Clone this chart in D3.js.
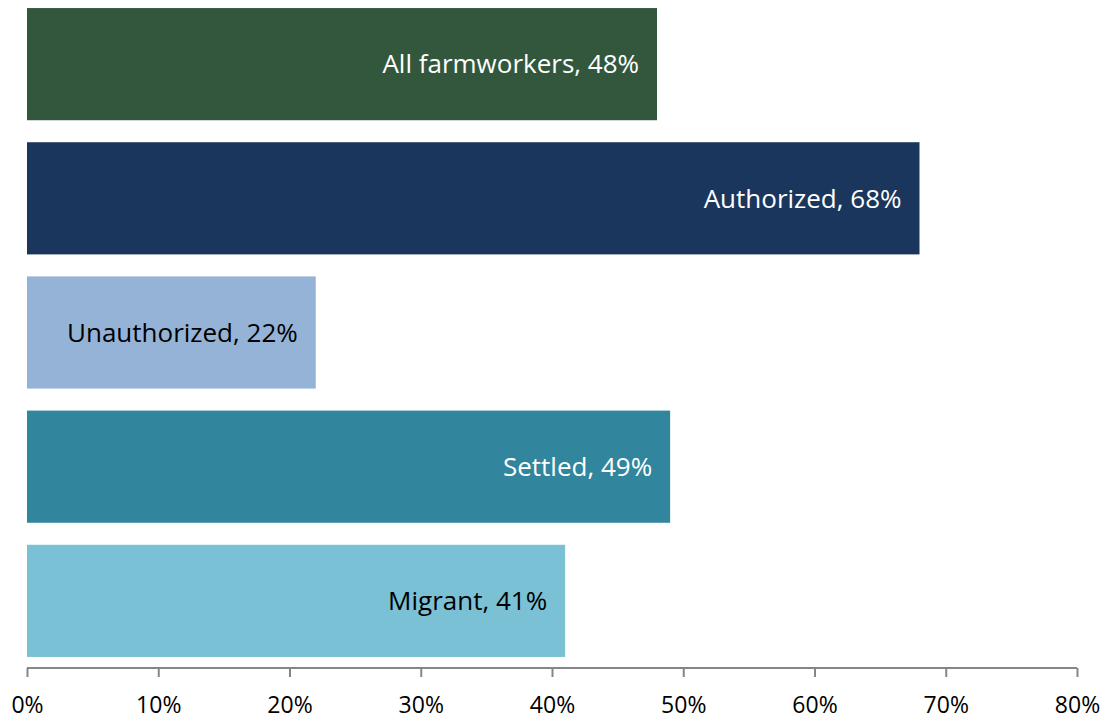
<!DOCTYPE html>
<html><head><meta charset="utf-8">
<script src="https://cdn.jsdelivr.net/npm/d3@7"></script>
<style>body{margin:0;background:#fff}svg{display:block}</style>
</head><body>
<svg id="c" width="1105" height="720"></svg>
<script>
const categories = ["All farmworkers", "Authorized", "Unauthorized", "Settled", "Migrant"];
const values = [48, 68, 22, 49, 41];
const barColors = ["#33573C", "#1A365D", "#95B3D7", "#31859C", "#7AC1D6"];
const labelColors = ["#FFFFFF", "#FFFFFF", "#000000", "#FFFFFF", "#000000"];
const tickValues = [0, 10, 20, 30, 40, 50, 60, 70, 80];

const svg = d3.select("#c");
const font = "'Open Sans', sans-serif";
const x = d3.scaleLinear().domain([0, 80]).range([27, 1077]);
const y = d3.scaleBand().domain(categories).range([0, 665]).paddingInner(0.164).paddingOuter(0.06);

svg.selectAll("rect.bar").data(categories).join("rect")
  .attr("class", "bar")
  .attr("x", x(0))
  .attr("y", d => y(d))
  .attr("width", (d, i) => x(values[i]) - x(0))
  .attr("height", y.bandwidth())
  .attr("fill", (d, i) => barColors[i]);

svg.selectAll("text.lbl").data(categories).join("text")
  .attr("class", "lbl")
  .attr("x", (d, i) => x(values[i]) - 18)
  .attr("y", d => y(d) + y.bandwidth() / 2)
  .attr("dy", "0.36em")
  .attr("text-anchor", "end")
  .attr("font-family", font)
  .attr("font-size", 26)
  .attr("fill", (d, i) => labelColors[i])
  .text((d, i) => `${d}, ${values[i]}%`);

const axis = d3.axisBottom(x).tickValues(tickValues).tickFormat(d => d + "%").tickSize(9).tickPadding(20);
const g = svg.append("g").attr("transform", "translate(0,668)").call(axis);
g.select(".domain").attr("stroke", "#868686").attr("stroke-width", 2).attr("d", `M${x(0)},0H${x(80)}`);
g.selectAll(".tick line").attr("stroke", "#868686").attr("stroke-width", 2);
g.selectAll(".tick text").attr("font-family", font).attr("font-size", 23).attr("fill", "#000");
</script>
</body></html>
